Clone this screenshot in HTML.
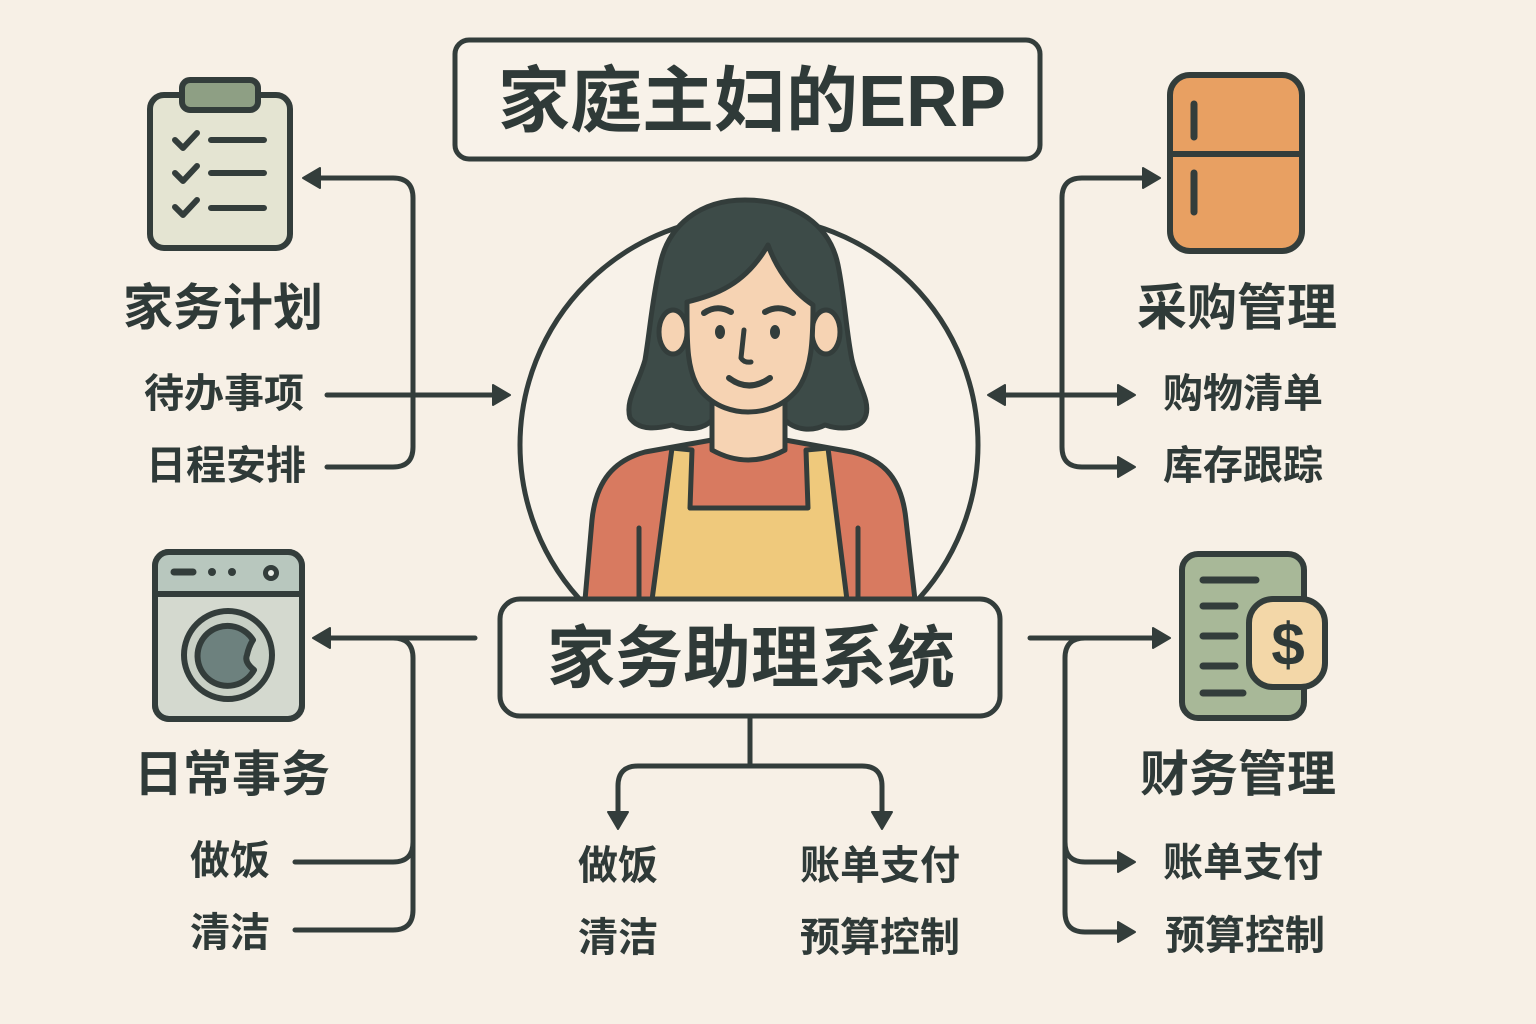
<!DOCTYPE html>
<html><head><meta charset="utf-8"><style>
html,body{margin:0;padding:0;background:#f7f0e6;}
svg{display:block;}
text{font-family:"Liberation Sans","Noto Sans CJK SC",sans-serif;font-weight:700;fill:#2f3a38;}
</style></head><body>
<svg width="1536" height="1024" viewBox="0 0 1536 1024" xmlns="http://www.w3.org/2000/svg">
<rect width="1536" height="1024" fill="#f7f0e6"/>

<!-- Title -->
<rect x="455" y="40" width="585" height="119" rx="14" fill="#f8f2e9" stroke="#333d3b" stroke-width="5"/>
<text x="752" y="126" font-size="72" text-anchor="middle">家庭主妇的ERP</text>

<!-- connectors -->
<g fill="none" stroke="#333d3b" stroke-width="5" stroke-linecap="round">
  <path d="M327 467 H393 Q413 467 413 447 V198 Q413 178 393 178 H318"/>
  <path d="M327 395 H495"/>
  <path d="M1145 178 H1082 Q1062 178 1062 198 V447 Q1062 467 1082 467 H1120"/>
  <path d="M1003 395 H1120"/>
  <path d="M475 638 H328"/>
  <path d="M393 638 Q413 638 413 658 V910 Q413 930 393 930 H295"/>
  <path d="M295 862 H393 Q413 862 413 842"/>
  <path d="M1030 638 H1155"/>
  <path d="M1085 638 Q1065 638 1065 658 V912 Q1065 932 1085 932 H1120"/>
  <path d="M1065 842 Q1065 862 1085 862 H1120"/>
  <path d="M750 716 V766"/>
  <path d="M618 815 V786 Q618 766 638 766 H862 Q882 766 882 786 V815"/>
</g>
<g fill="#333d3b" stroke="#333d3b" stroke-width="2" stroke-linejoin="round">
  <polygon points="303,178 320,168 320,188"/>
  <polygon points="510,395 493,385 493,405"/>
  <polygon points="1160,178 1143,168 1143,188"/>
  <polygon points="988,395 1005,385 1005,405"/>
  <polygon points="1135,395 1118,385 1118,405"/>
  <polygon points="1135,467 1118,457 1118,477"/>
  <polygon points="313,638 330,628 330,648"/>
  <polygon points="1170,638 1153,628 1153,648"/>
  <polygon points="1135,862 1118,852 1118,872"/>
  <polygon points="1135,932 1118,922 1118,942"/>
  <polygon points="618,829 608,812 628,812"/>
  <polygon points="882,829 872,812 892,812"/>
</g>

<!-- circle -->
<circle cx="749" cy="445" r="229" fill="#f8f2e9" stroke="#333d3b" stroke-width="5"/>

<!-- person -->
<g stroke="#333d3b" stroke-width="5" stroke-linejoin="round" stroke-linecap="round">
  <path fill="#3d4b48" d="M745 200 C700 200 668 225 660 265 C652 300 650 330 645 360 C638 385 625 400 630 418 C640 432 660 428 672 425 C690 432 705 428 712 420 L785 420 C795 430 812 432 825 425 C840 430 862 430 866 415 C870 400 858 385 852 360 C846 330 845 300 838 265 C830 225 795 200 745 200 Z"/>
  <path fill="#d87a60" d="M585 600 L592 520 C596 480 615 460 645 452 L712 440 Q748 470 785 440 L852 452 C885 460 902 480 906 520 L915 600 Z"/>
  <path fill="#efc97c" d="M672 448 L692 450 L690 508 L808 508 L806 450 L828 448 L847 600 L652 600 Z"/>
  <path fill="none" d="M639 528 V598 M858 528 V598"/>
  <path fill="#f6d3b3" d="M712 395 V450 Q748 470 785 450 V395 Z"/>
  <ellipse cx="673" cy="332" rx="14" ry="22" fill="#f6d3b3"/>
  <ellipse cx="826" cy="332" rx="14" ry="22" fill="#f6d3b3"/>
  <path fill="#f6d3b3" d="M687 302 C687 340 686 370 700 390 C715 408 735 412 748 412 C762 412 782 408 797 390 C812 370 813 340 813 305 C790 290 775 265 768 245 C745 285 715 295 687 302 Z"/>
  <path fill="none" stroke-width="6" d="M704 313 Q717 304 731 312 M765 312 Q779 304 793 313"/>
  <path fill="none" d="M744 330 L741 358 Q744 363 751 362"/>
  <path fill="none" stroke-width="6" d="M729 378 Q749 393 770 378"/>
</g>
<ellipse cx="720" cy="332" rx="5" ry="7" fill="#333d3b"/>
<ellipse cx="775" cy="332" rx="5" ry="7" fill="#333d3b"/>

<!-- center box -->
<rect x="500" y="599" width="500" height="117" rx="20" fill="#f8f2e9" stroke="#333d3b" stroke-width="5"/>
<text x="751" y="682" font-size="68" text-anchor="middle">家务助理系统</text>

<!-- clipboard -->
<rect x="150" y="95" width="140" height="153" rx="14" fill="#e4e4d2" stroke="#333d3b" stroke-width="6"/>
<rect x="182" y="80" width="76" height="30" rx="8" fill="#8e9f84" stroke="#333d3b" stroke-width="6"/>
<g fill="none" stroke="#333d3b" stroke-width="6" stroke-linecap="round" stroke-linejoin="round">
  <path d="M175 140 L183 148 L197 133 M175 173 L183 181 L197 166 M175 207 L183 215 L197 200"/>
  <path d="M211 140 H264 M211 173 H264 M211 208 H264"/>
</g>

<!-- fridge -->
<rect x="1170" y="75" width="132" height="176" rx="20" fill="#e8a062" stroke="#333d3b" stroke-width="6"/>
<path d="M1170 154 H1302" stroke="#333d3b" stroke-width="6"/>
<path d="M1194 104 V137 M1194 173 V212" stroke="#333d3b" stroke-width="7" stroke-linecap="round"/>

<!-- washer -->
<rect x="155" y="552" width="147" height="167" rx="14" fill="#d4d9cf" stroke="#333d3b" stroke-width="6"/>
<path d="M158 555 H299 V594 H158 Z" fill="#b8c7be"/>
<rect x="155" y="552" width="147" height="167" rx="14" fill="none" stroke="#333d3b" stroke-width="6"/>
<path d="M155 594 H302" stroke="#333d3b" stroke-width="6"/>
<path d="M174 572 H193" stroke="#333d3b" stroke-width="7" stroke-linecap="round"/>
<circle cx="212" cy="572" r="4" fill="#333d3b"/>
<circle cx="232" cy="572" r="4" fill="#333d3b"/>
<circle cx="271" cy="573" r="8" fill="#333d3b"/>
<circle cx="271" cy="573" r="3" fill="#e8ece6"/>
<circle cx="228" cy="655" r="44" fill="#c8d0c5" stroke="#333d3b" stroke-width="6"/>
<path d="M253 640 A30 30 0 1 0 254 670 Q244 662 247 655 Q249 646 253 640 Z" fill="#6d817e" stroke="#333d3b" stroke-width="6" stroke-linejoin="round"/>

<!-- finance -->
<rect x="1182" y="554" width="122" height="164" rx="16" fill="#a8b898" stroke="#333d3b" stroke-width="6"/>
<g stroke="#333d3b" stroke-width="7" stroke-linecap="round">
  <path d="M1203 580 H1256 M1203 606 H1235 M1203 636 H1235 M1203 666 H1235 M1203 693 H1243"/>
</g>
<rect x="1249" y="599" width="76" height="88" rx="24" fill="#f3d7a8" stroke="#333d3b" stroke-width="6"/>
<text x="1288" y="665" font-size="60" text-anchor="middle">$</text>

<!-- labels -->
<text x="223" y="325" font-size="50" text-anchor="middle">家务计划</text>
<text x="224" y="407" font-size="40" text-anchor="middle">待办事项</text>
<text x="226" y="479" font-size="40" text-anchor="middle">日程安排</text>
<text x="1237" y="325" font-size="50" text-anchor="middle">采购管理</text>
<text x="1243" y="407" font-size="40" text-anchor="middle">购物清单</text>
<text x="1243" y="479" font-size="40" text-anchor="middle">库存跟踪</text>
<text x="232" y="791" font-size="49" text-anchor="middle">日常事务</text>
<text x="230" y="874" font-size="40" text-anchor="middle">做饭</text>
<text x="230" y="946" font-size="40" text-anchor="middle">清洁</text>
<text x="1238" y="791" font-size="49" text-anchor="middle">财务管理</text>
<text x="1243" y="876" font-size="40" text-anchor="middle">账单支付</text>
<text x="1245" y="949" font-size="40" text-anchor="middle">预算控制</text>
<text x="618" y="879" font-size="40" text-anchor="middle">做饭</text>
<text x="618" y="951" font-size="40" text-anchor="middle">清洁</text>
<text x="880" y="879" font-size="40" text-anchor="middle">账单支付</text>
<text x="880" y="951" font-size="40" text-anchor="middle">预算控制</text>
</svg>
</body></html>
